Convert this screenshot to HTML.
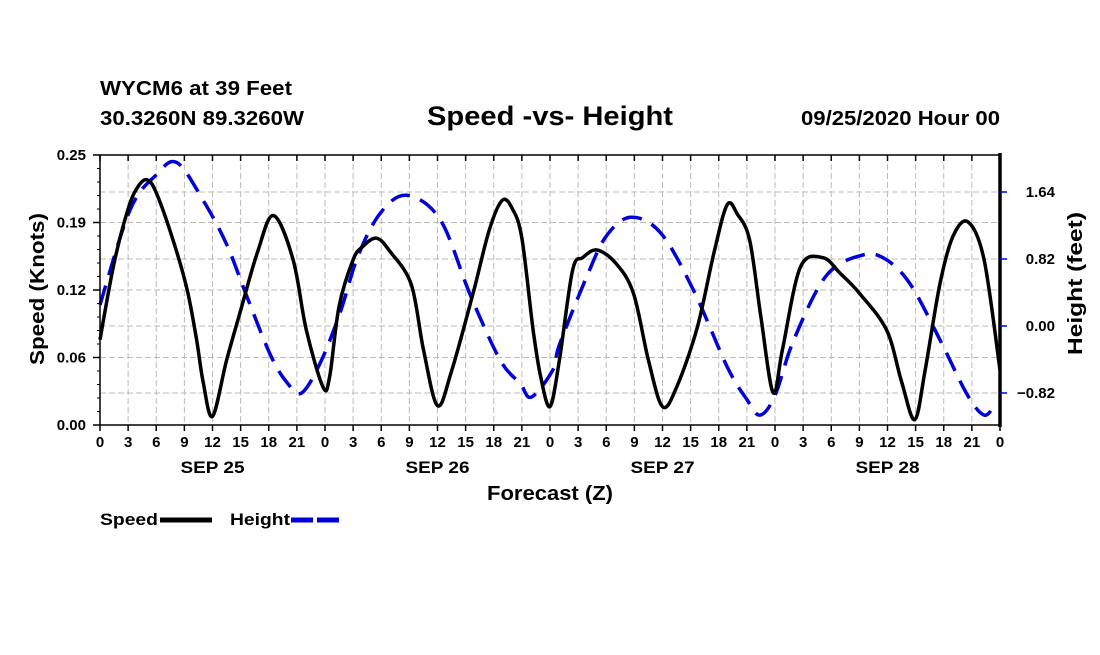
<!DOCTYPE html>
<html><head><meta charset="utf-8"><style>
html,body{margin:0;padding:0;background:#fff;}
svg text{font-family:"Liberation Sans",sans-serif;font-weight:bold;fill:#000;}
</style></head><body>
<svg id="chart" width="1100" height="650" viewBox="0 0 1100 650" xmlns="http://www.w3.org/2000/svg">
<text x="100" y="95" font-size="20" textLength="192" lengthAdjust="spacingAndGlyphs">WYCM6 at 39 Feet</text>
<text x="100" y="125" font-size="20" textLength="204" lengthAdjust="spacingAndGlyphs">30.3260N 89.3260W</text>
<text x="427" y="125" font-size="27" textLength="246" lengthAdjust="spacingAndGlyphs">Speed -vs- Height</text>
<text x="801" y="125" font-size="20" textLength="199" lengthAdjust="spacingAndGlyphs">09/25/2020 Hour 00</text>
<g id="grid"></g>
<g id="series"></g>
<g id="axes"></g>
<text x="487" y="500" font-size="20" textLength="126" lengthAdjust="spacingAndGlyphs">Forecast (Z)</text>
<text transform="translate(44,365) rotate(-90)" font-size="20" textLength="152" lengthAdjust="spacingAndGlyphs">Speed (Knots)</text>
<text transform="translate(1082,355) rotate(-90)" font-size="20" textLength="143" lengthAdjust="spacingAndGlyphs">Height (feet)</text>
<g>
<text x="100" y="525" font-size="17" textLength="58" lengthAdjust="spacingAndGlyphs">Speed</text>
<line x1="160" y1="520" x2="212" y2="520" stroke="#000" stroke-width="5"/>
<text x="230" y="525" font-size="17" textLength="60" lengthAdjust="spacingAndGlyphs">Height</text>
<line x1="291" y1="520" x2="342" y2="520" stroke="#0000dd" stroke-width="5" stroke-dasharray="22,4"/>
</g>
</svg>
<script>
const xTickLabels=["0","3","6","9","12","15","18","21"];
const dayLabels=["SEP 25","SEP 26","SEP 27","SEP 28"];
const speedTicks=[0,0.0625,0.125,0.1875,0.25];
const speedTickLabels=["0.00","0.06","0.12","0.19","0.25"];
const heightTicks=[-0.82,0,0.82,1.64];
const heightTickLabels=["−0.82","0.00","0.82","1.64"];
const speedHours=[0,1.5,3,4,5,6,7.8,9.3,10.3,11,12,13.5,15,16.8,18.5,20.6,22,23.8,24.5,25.5,27,28,29.5,31,33.2,34.5,36,37.5,39.8,41.5,42.9,44,45,46.2,47,48,49,50.4,51.5,53,55,56.9,58.5,60,61.5,63.7,65.5,66.9,68,69.3,70.5,71.8,72.8,74.7,77.1,79,81,83.9,85.5,86.9,88,89.6,91,92.6,94.3,96];
const speedValues=[0.079,0.15,0.2,0.22,0.227,0.215,0.171,0.125,0.079,0.04,0.008,0.06,0.106,0.16,0.194,0.153,0.088,0.035,0.045,0.11,0.153,0.165,0.173,0.16,0.13,0.07,0.018,0.05,0.122,0.18,0.208,0.2,0.173,0.088,0.045,0.017,0.06,0.143,0.155,0.162,0.15,0.122,0.06,0.017,0.035,0.09,0.16,0.204,0.195,0.171,0.1,0.03,0.07,0.146,0.155,0.14,0.122,0.088,0.04,0.005,0.05,0.131,0.175,0.188,0.153,0.051];
const heightHours=[0,3.2,6,8.2,11,13.5,15.6,18.2,20,21.5,23.5,25.6,27.5,29.9,32.7,36.3,39.5,42.7,44.8,46,48.3,49,51.9,54,56.6,59.8,63.3,66.9,69,70.4,72,74,77.5,81.4,83.9,86.5,89.6,92.5,94.3,95.4];
const heightValues=[0.26,1.42,1.85,2.0,1.54,1.0,0.38,-0.36,-0.7,-0.82,-0.45,0.16,0.85,1.38,1.6,1.3,0.38,-0.42,-0.7,-0.87,-0.54,-0.23,0.6,1.1,1.33,1.14,0.44,-0.5,-0.9,-1.09,-0.85,-0.17,0.62,0.87,0.81,0.5,-0.17,-0.84,-1.09,-0.97];
const X0=100,X1=1000,Y0=155,Y1=425;
const xs=h=>X0+(h/96)*(X1-X0);
const ysp=v=>Y1-(v/0.25)*(Y1-Y0);
const yht=v=>326-v*(67/0.82);
const NS="http://www.w3.org/2000/svg";
function mk(tag,attrs,parent){const e=document.createElementNS(NS,tag);for(const k in attrs)e.setAttribute(k,attrs[k]);parent.appendChild(e);return e;}
const grid=document.getElementById('grid'),axes=document.getElementById('axes'),series=document.getElementById('series');
for(let h=3;h<96;h+=3){const l=mk('line',{x1:xs(h),x2:xs(h),y1:Y0,y2:Y1,stroke:'#bbb','stroke-width':1,'stroke-dasharray':'6,3'},grid);

}
speedTicks.slice(1,4).forEach(v=>{const l=mk('line',{x1:X0,x2:X1,y1:ysp(v),y2:ysp(v),stroke:'#bbb','stroke-width':1,'stroke-dasharray':'6,3'},grid);

});
heightTicks.forEach(v=>{const l=mk('line',{x1:X0,x2:X1,y1:yht(v),y2:yht(v),stroke:'#bbb','stroke-width':1,'stroke-dasharray':'6,3'},grid);

});
function smooth(pts){let d='M'+pts[0][0].toFixed(1)+','+pts[0][1].toFixed(1);
for(let i=0;i<pts.length-1;i++){const p0=pts[Math.max(i-1,0)],p1=pts[i],p2=pts[i+1],p3=pts[Math.min(i+2,pts.length-1)];
const c1=[p1[0]+(p2[0]-p0[0])/6,p1[1]+(p2[1]-p0[1])/6],c2=[p2[0]-(p3[0]-p1[0])/6,p2[1]-(p3[1]-p1[1])/6];
d+='C'+c1.map(n=>n.toFixed(1))+' '+c2.map(n=>n.toFixed(1))+' '+p2.map(n=>n.toFixed(1));}return d;}
const hp=mk('path',{d:smooth(heightHours.map((h,i)=>[xs(h),yht(heightValues[i])])),fill:'none',stroke:'#0000dd','stroke-width':3.5,'stroke-dasharray':'20,11'},series);


const sp=mk('path',{d:smooth(speedHours.map((h,i)=>[xs(h),ysp(speedValues[i])])),fill:'none',stroke:'#000','stroke-width':3.5,'stroke-linejoin':'round'},series);


const fr=mk('rect',{x:X0,y:Y0,width:X1-X0,height:Y1-Y0,fill:'none',stroke:'#000','stroke-width':1.5},axes);


mk('line',{x1:X1,x2:X1,y1:Y0-2,y2:Y1+2,stroke:'#000','stroke-width':3.5},axes);
for(let h=0;h<=96;h+=3){mk('line',{x1:xs(h),x2:xs(h),y1:Y1,y2:Y1+6,stroke:'#000','stroke-width':1.5},axes);
mk('line',{x1:xs(h),x2:xs(h),y1:Y0,y2:Y0+6,stroke:'#000','stroke-width':1.5},axes);
const t=mk('text',{x:xs(h),y:Y1+22,'font-size':15,'text-anchor':'middle'},axes);t.textContent=h===96?'0':xTickLabels[(h/3)%8];

}
dayLabels.forEach((d,i)=>{const t=mk('text',{x:xs(i*24+12)-32,y:473,'font-size':17,textLength:64,lengthAdjust:'spacingAndGlyphs'},axes);t.textContent=d;

});
for(let v=0;v<=0.25001;v+=0.0125){mk('line',{x1:X0-3,x2:X0,y1:ysp(v),y2:ysp(v),stroke:'#000','stroke-width':1},axes);}
speedTicks.forEach((v,i)=>{mk('line',{x1:X0-7,x2:X0,y1:ysp(v),y2:ysp(v),stroke:'#000','stroke-width':1.5},axes);
const t=mk('text',{x:X0-14,y:ysp(v)+5,'font-size':15,'text-anchor':'end'},axes);t.textContent=speedTickLabels[i];

});
heightTicks.forEach((v,i)=>{mk('line',{x1:X1,x2:X1+7,y1:yht(v),y2:yht(v),stroke:'#0000dd','stroke-width':1.5},axes);
const t=mk('text',{x:1055,y:yht(v)+5,'font-size':15,'text-anchor':'end'},axes);t.textContent=heightTickLabels[i];

});
</script>
</body></html>
